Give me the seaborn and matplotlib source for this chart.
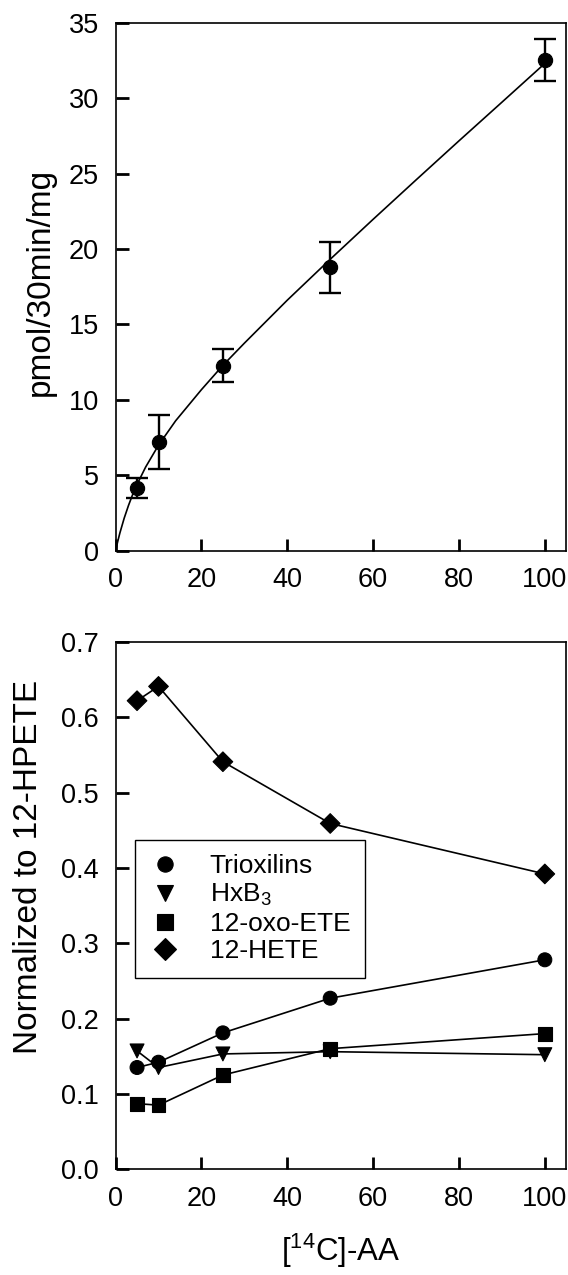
import numpy as np
import pandas as pd
import seaborn as sns
import matplotlib.pyplot as plt

# top panel: product formation vs substrate
aa_conc = [5, 10, 25, 50, 100]
pmol_mean = [4.15, 7.2, 12.28, 18.8, 32.55]
pmol_err = [0.65, 1.8, 1.07, 1.69, 1.4]

# fitted curve
fit_x = [0, 0.5, 1, 2, 3, 4, 5, 7, 10, 14, 20, 25, 30, 40, 50, 60, 70, 80, 90, 100]
fit_y = [0, 0.62, 1.18, 2.16, 3.0, 3.75, 4.4, 5.55, 7.0, 8.62, 10.68, 12.29, 13.76,
         16.61, 19.32, 21.97, 24.58, 27.17, 29.73, 32.3]

# bottom panel: ratios to 12-HPETE
trioxilins = [0.135, 0.142, 0.181, 0.227, 0.278]
hxb3 = [0.157, 0.135, 0.153, 0.156, 0.152]
oxo_ete = [0.087, 0.085, 0.125, 0.160, 0.180]
hete12 = [0.622, 0.641, 0.541, 0.459, 0.392]

names = ['Trioxilins', 'HxB$\\mathregular{_3}$', '12-oxo-ETE', '12-HETE']
marks = ['o', 'v', 's', 'D']

sns.set_style('ticks', {'axes.axisbelow': False})
plt.rcParams['font.family'] = ['Liberation Sans', 'DejaVu Sans']
plt.rcParams['mathtext.fontset'] = 'custom'
plt.rcParams['mathtext.rm'] = 'Liberation Sans'
for k in ['text.color', 'axes.labelcolor', 'axes.edgecolor']:
    plt.rcParams[k] = 'black'

fig = plt.figure(figsize=(5.68, 12.75), dpi=100)
ax1 = fig.add_axes([0.2035, 0.568, 0.7935, 0.4142])
ax2 = fig.add_axes([0.2035, 0.083, 0.7935, 0.4135])

tick_fs = 19.5
lab_fs = 24

# top
sns.lineplot(x=fit_x, y=fit_y, ax=ax1, color='black', lw=1.2)
ax1.errorbar(aa_conc, pmol_mean, yerr=pmol_err, fmt='none', ecolor='black',
             elinewidth=1.7, capsize=8, capthick=1.7)
sns.scatterplot(x=aa_conc, y=pmol_mean, ax=ax1, color='black', s=105,
                marker='o', edgecolor='black', zorder=5)
ax1.set_xlim(0, 105)
ax1.set_ylim(0, 35)
ax1.set_xticks(range(0, 101, 20))
ax1.set_yticks(range(0, 36, 5))
ax1.set_xlabel('')
ax1.set_ylabel('pmol/30min/mg', fontsize=lab_fs)
ax1.yaxis.set_label_coords(-0.132, 0.509)

# bottom
df = pd.DataFrame({
    'x': aa_conc * 4,
    'y': trioxilins + hxb3 + oxo_ete + hete12,
    'cmpd': [n for n in names for _ in aa_conc],
})
for n in names:
    sub = df[df.cmpd == n]
    sns.lineplot(data=sub, x='x', y='y', ax=ax2, color='black', lw=1.2, legend=False)
sns.scatterplot(data=df, x='x', y='y', style='cmpd', markers=dict(zip(names, marks)),
                hue='cmpd', palette=['black'] * 4, s=100, edgecolor='black',
                ax=ax2, zorder=5)
ax2.set_xlim(0, 105)
ax2.set_ylim(0, 0.7)
ax2.set_xticks(range(0, 101, 20))
ax2.set_yticks(np.arange(0, 0.71, 0.1))
ax2.set_yticklabels(['%.1f' % v for v in np.arange(0, 0.71, 0.1)])
ax2.set_xlabel('[$\\mathregular{^{14}}$C]-AA', fontsize=22.5, labelpad=14)
ax2.set_ylabel('Normalized to 12-HPETE', fontsize=lab_fs)
ax2.yaxis.set_label_coords(-0.159, 0.574)

leg = ax2.legend(loc='upper left', bbox_to_anchor=(0.042, 0.625), fontsize=19,
                 frameon=True, fancybox=False, edgecolor='black', framealpha=1,
                 handletextpad=1.1, labelspacing=0.14, borderpad=0.55,
                 handlelength=1.2, borderaxespad=0)
leg.get_frame().set_linewidth(1.0)
for h in leg.legend_handles:
    h.set_markersize(11)

for ax in (ax1, ax2):
    ax.tick_params(direction='in', length=9, width=2, color='black',
                   labelsize=tick_fs, pad=12, labelcolor='black',
                   bottom=True, left=True, top=False, right=False)
    ax.xaxis.set_zorder(6)
    ax.yaxis.set_zorder(6)
    for s in ax.spines.values():
        s.set_linewidth(1.2)
        s.set_color('black')

fig.savefig('out.png', dpi=100)
